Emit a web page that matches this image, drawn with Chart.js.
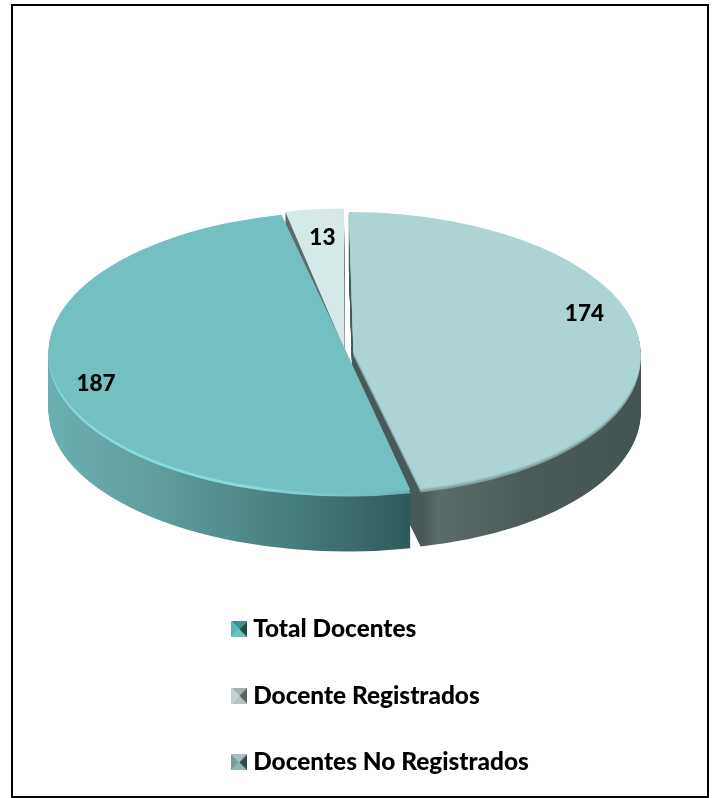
<!DOCTYPE html>
<html><head><meta charset="utf-8">
<style>html,body{margin:0;padding:0;background:#fff}#w{position:relative;width:713px;height:798px}</style>
<script src="https://cdn.jsdelivr.net/npm/chart.js@4"></script>
</head><body><div id="w"><canvas id="c" width="713" height="798"></canvas></div>
<script>
const categories = ["Total Docentes", "Docente Registrados", "Docentes No Registrados"];
const values = [187, 13, 174];

const FONT = 'Lato, Carlito, sans-serif';
const S = 0.48, CX = 346.5, CY = 352, DEPTH = 58;
const topColors = ['#74bfbf', '#d6e9e9', '#acd4d4'];
const drawOrder = [1, 2, 0];
// small perspective corrections applied per slice when projecting the flat pie
const persp = [
  { shift: 4, xs: 1.0136, skew: 0 },
  { shift: -1.5, xs: 0.94, skew: 0 },
  { shift: 5, xs: 0.985, skew: 0.035 }
];

function swatch(l, t, r, b) {
  const n = 16, c = document.createElement('canvas');
  c.width = n; c.height = n;
  const g = c.getContext('2d');
  const tri = (col, pts) => { g.fillStyle = col; g.beginPath(); pts.forEach((p, i) => i ? g.lineTo(p[0], p[1]) : g.moveTo(p[0], p[1])); g.closePath(); g.fill(); };
  const m = [n / 2, n / 2];
  tri(t, [[0, 0], [n, 0], m]);
  tri(b, [[0, n], [n, n], m]);
  tri(l, [[0, 0], [0, n], m]);
  tri(r, [[n, 0], [n, n], m]);
  return c;
}
const swatches = [
  swatch('#58b8b8', '#3f8f8f', '#234848', '#6cc4c4'),
  swatch('#c4d2d2', '#a8b2b2', '#586464', '#b6c4c4'),
  swatch('#6f9f9f', '#a8c0c0', '#2f4a4a', '#8fb4b4')
];

const pie3d = {
  id: 'pie3d',
  afterLayout(chart) {
    const lg = chart.legend;
    lg.left = 195.3; lg.top = 575;
    lg.right = lg.left + 500; lg.bottom = 1000;
  },
  beforeDatasetsDraw(chart) {
    const ctx = chart.ctx, meta = chart.getDatasetMeta(0);
    const a = chart.chartArea;
    const mx = (a.left + a.right) / 2, my = (a.top + a.bottom) / 2;
    const sx = CX - mx;
    const grad = (stops) => {
      const g = ctx.createLinearGradient(stops[0][0] - sx, 0, stops[stops.length - 1][0] - sx, 0);
      const x0 = stops[0][0], x1 = stops[stops.length - 1][0];
      stops.forEach(s => g.addColorStop((s[0] - x0) / (x1 - x0), s[1]));
      return g;
    };
    const sides = [
      grad([[48, '#6cb0b0'], [150, '#629f9f'], [280, '#4a8080'], [410, '#2f5a5c']]),
      grad([[280, '#5f6b6b'], [345, '#5f6b6b']]),
      grad([[350, '#475a5a'], [412, '#475a5a'], [428, '#5b6b69'], [520, '#4a5b5a'], [641, '#435453']])
    ];
    const rims = [
      [[3, grad([[48, '#86dcdc'], [250, '#86dcdc'], [400, '#70b4b4']])]],
      [],
      [[4, '#7f9c9c'], [2.5, '#8fb0b0'], [1.2, '#a0c4c4']]
    ];
    const paint = (arc, i, fill, dy) => {
      const orig = arc.options, t = persp[i];
      arc.options = Object.assign({}, orig, { backgroundColor: fill, borderWidth: 0 });
      ctx.save();
      ctx.translate(sx + t.shift + mx, CY + dy);
      ctx.transform(1, 0, t.skew, 1, 0, 0);
      ctx.scale(t.xs, S);
      ctx.translate(-mx, -my);
      arc.draw(ctx);
      ctx.restore();
      arc.options = orig;
    };
    drawOrder.forEach(i => {
      const arc = meta.data[i];
      for (let d = DEPTH; d >= 1; d--) paint(arc, i, sides[i], d);
      rims[i].forEach(r => paint(arc, i, r[1], r[0]));
      paint(arc, i, topColors[i], 0);
    });
    return false;
  },
  afterDraw(chart) {
    const ctx = chart.ctx, meta = chart.getDatasetMeta(0);
    const opts = chart.options.plugins.pie3d;
    const a = chart.chartArea;
    const mx = (a.left + a.right) / 2, my = (a.top + a.bottom) / 2;
    ctx.save();
    ctx.fillStyle = '#000';
    ctx.font = '900 22.5px ' + FONT;
    ctx.textAlign = 'center';
    ctx.textBaseline = 'middle';
    meta.data.forEach((arc, i) => {
      const p = arc.getProps(['x', 'y', 'startAngle', 'endAngle', 'outerRadius']);
      const m = (p.startAngle + p.endAngle) / 2, r = p.outerRadius * opts.labelRadius;
      const x = p.x + Math.cos(m) * r + (CX - mx) + opts.nudgeX[i];
      const y = CY + (p.y - my) * S + Math.sin(m) * r * S + opts.nudgeY[i];
      ctx.fillText(String(values[i]), x, y);
    });
    ctx.strokeStyle = '#000';
    ctx.lineWidth = 2;
    ctx.strokeRect(12, 5, 696, 792);
    ctx.restore();
  }
};

new Chart(document.getElementById('c'), {
  type: 'pie',
  data: {
    labels: categories,
    datasets: [{
      data: values,
      backgroundColor: topColors,
      borderWidth: 0,
      offset: [16, 20, 8]
    }]
  },
  options: {
    responsive: false,
    animation: false,
    rotation: 167.5,
    radius: 290,
    layout: { padding: 0 },
    plugins: {
      tooltip: { enabled: false },
      pie3d: { labelRadius: 0.86, nudgeX: [-7, 3, -10], nudgeY: [6, 5, -25] },
      legend: {
        position: 'chartArea',
        align: 'start',
        labels: {
          usePointStyle: true,
          pointStyleWidth: 3.6,
          padding: 42.1,
          color: '#000',
          font: { family: FONT, size: 24.4, weight: '900' },
          generateLabels: () => categories.map((t, i) => ({
            text: t, pointStyle: swatches[i], fontColor: '#000', lineWidth: 0,
            strokeStyle: 'transparent', fillStyle: topColors[i], hidden: false, index: i
          }))
        }
      }
    }
  },
  plugins: [pie3d]
});
</script></body></html>
